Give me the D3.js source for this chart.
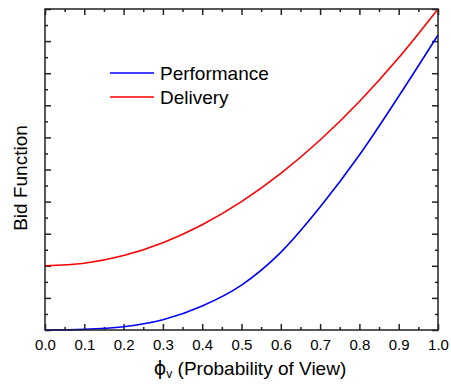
<!DOCTYPE html>
<html>
<head>
<meta charset="utf-8">
<script src="https://cdn.jsdelivr.net/npm/d3@7"></script>
<style>
  body { margin: 0; background: #fff; }
  text { font-family: Arial, "Liberation Sans", sans-serif; fill: #000; }
</style>
</head>
<body>
<div id="graph"></div>
<script>
// values
const phiV = [0, 0.1, 0.2, 0.3, 0.4, 0.5, 0.6, 0.7, 0.8, 0.9, 1.0];
const performance = [0, 0.02, 0.10, 0.32, 0.75, 1.40, 2.42, 3.83, 5.45, 7.28, 9.19];
const delivery = [2.00, 2.08, 2.32, 2.72, 3.28, 4.00, 4.88, 5.92, 7.12, 8.48, 10.0];
const xTicks = [0, 0.1, 0.2, 0.3, 0.4, 0.5, 0.6, 0.7, 0.8, 0.9, 1.0];
const xMinor = [0.05, 0.15, 0.25, 0.35, 0.45, 0.55, 0.65, 0.75, 0.85, 0.95];
const yTicks = [0, 1, 2, 3, 4, 5, 6, 7, 8, 9, 10];
const yMinor = [0.5, 1.5, 2.5, 3.5, 4.5, 5.5, 6.5, 7.5, 8.5, 9.5];
const legendNames = ["Performance", "Delivery"];
const legendColors = ["#0000ff", "#ff0000"];

const width = 451, height = 384;
const margin = {top: 9, right: 13, bottom: 54, left: 45};
const w = width - margin.left - margin.right;
const h = height - margin.top - margin.bottom;

const svg = d3.select("#graph").append("svg")
  .attr("width", width)
  .attr("height", height);
svg.append("rect").attr("width", width).attr("height", height).attr("fill", "#fff");

const g = svg.append("g").attr("transform", `translate(${margin.left},${margin.top})`);

const x = d3.scaleLinear().domain([0, 1]).range([0, w]);
const y = d3.scaleLinear().domain([0, 10]).range([h, 0]);

function styleAxis(sel)
{
  sel.select(".domain").remove();
  sel.selectAll("line").attr("stroke", "#222").attr("stroke-width", 1.5);
}

// bottom, labelled
g.append("g").attr("transform", `translate(0,${h})`)
  .call(d3.axisBottom(x).tickValues(xTicks).tickFormat(d3.format(".1f")).tickSize(-6).tickPadding(9))
  .call(styleAxis)
  .selectAll("text").style("font-size", "15px");
g.append("g").attr("transform", `translate(0,${h})`)
  .call(d3.axisBottom(x).tickValues(xMinor).tickFormat("").tickSize(-3))
  .call(styleAxis);
// top
g.append("g")
  .call(d3.axisTop(x).tickValues(xTicks).tickFormat("").tickSize(-6))
  .call(styleAxis);
g.append("g")
  .call(d3.axisTop(x).tickValues(xMinor).tickFormat("").tickSize(-3))
  .call(styleAxis);
// left, no labels
g.append("g")
  .call(d3.axisLeft(y).tickValues(yTicks).tickFormat("").tickSize(-6))
  .call(styleAxis);
g.append("g")
  .call(d3.axisLeft(y).tickValues(yMinor).tickFormat("").tickSize(-3))
  .call(styleAxis);
// right
g.append("g").attr("transform", `translate(${w},0)`)
  .call(d3.axisRight(y).tickValues(yTicks).tickFormat("").tickSize(-6))
  .call(styleAxis);
g.append("g").attr("transform", `translate(${w},0)`)
  .call(d3.axisRight(y).tickValues(yMinor).tickFormat("").tickSize(-3))
  .call(styleAxis);

const line = d3.line()
  .x((d, i) => x(phiV[i]))
  .y(d => y(d))
  .curve(d3.curveMonotoneX);

g.append("path").datum(delivery)
  .attr("fill", "none").attr("stroke", legendColors[1]).attr("stroke-width", 1.6)
  .attr("d", line);
g.append("path").datum(performance)
  .attr("fill", "none").attr("stroke", legendColors[0]).attr("stroke-width", 1.6)
  .attr("d", line);

// frame
g.append("rect")
  .attr("width", w).attr("height", h)
  .attr("fill", "none").attr("stroke", "#222").attr("stroke-width", 1.5);

// legend
const legend = g.selectAll(".legend").data(legendNames).enter().append("g")
  .attr("transform", (d, i) => `translate(65,${64 + i * 24})`);
legend.append("line")
  .attr("x1", 0).attr("x2", 44)
  .attr("stroke", (d, i) => legendColors[i]).attr("stroke-width", 1.6);
legend.append("text")
  .attr("x", 50).attr("dy", "0.35em")
  .style("font-size", "19px")
  .text(d => d);

// axis titles
const xt = svg.append("text")
  .attr("x", 250).attr("y", 375)
  .attr("text-anchor", "middle")
  .style("font-size", "19px");
xt.append("tspan").style("font-family", "'DejaVu Sans', sans-serif").text("\u03D5");
xt.append("tspan").attr("dy", 3).style("font-size", "12px").text("v");
xt.append("tspan").attr("dy", -3).text(" (Probability of View)");

svg.append("text")
  .attr("transform", `translate(27,178) rotate(-90)`)
  .attr("text-anchor", "middle")
  .style("font-size", "19px")
  .text("Bid Function");
</script>
</body>
</html>
